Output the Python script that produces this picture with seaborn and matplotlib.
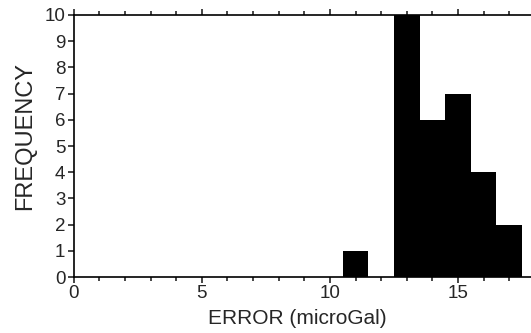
import matplotlib
matplotlib.use("Agg")
import matplotlib.pyplot as plt
import seaborn as sns
import numpy as np
import pandas as pd

# Data
bin_centers = [11, 12, 13, 14, 15, 16, 17]
counts = [1, 0, 10, 6, 7, 4, 2]
x_ticks = [0, 5, 10, 15]
y_ticks = list(range(0, 11))

sns.set_style("ticks")
plt.rcParams['font.family'] = ['Liberation Sans', 'DejaVu Sans']

df = pd.DataFrame({"error": bin_centers, "count": counts})

fig = plt.figure(figsize=(5.31, 3.33), dpi=100)
ax = fig.add_axes([0.139, 0.168, 0.861, 0.787])

sns.histplot(data=df, x="error", weights="count", binwidth=1,
             binrange=(10.5, 17.5), color="black", edgecolor="black",
             alpha=1, linewidth=0, ax=ax)

ax.set_xlim(0, 17.85)
ax.set_ylim(0, 10)
ax.set_xticks(x_ticks)
ax.set_xticks(np.arange(0, 18, 1), minor=True)
ax.set_yticks(y_ticks)

ax.tick_params(axis='both', which='major', labelsize=13.5, length=4, width=1.2,
               direction='out', pad=2, top=True, labeltop=False)
ax.tick_params(axis='x', which='minor', length=3, width=1.2, direction='out',
               top=True)
ax.set_xlabel("ERROR (microGal)", fontsize=15)
ax.set_ylabel("FREQUENCY", fontsize=17)
ax.xaxis.set_label_coords(0.488, -0.12)
ax.yaxis.set_label_coords(-0.082, 0.54)

for s in ['left', 'bottom', 'top']:
    ax.spines[s].set_linewidth(1.2)
    ax.spines[s].set_color('black')
ax.spines['right'].set_visible(False)

fig.savefig("out.png", dpi=100)
